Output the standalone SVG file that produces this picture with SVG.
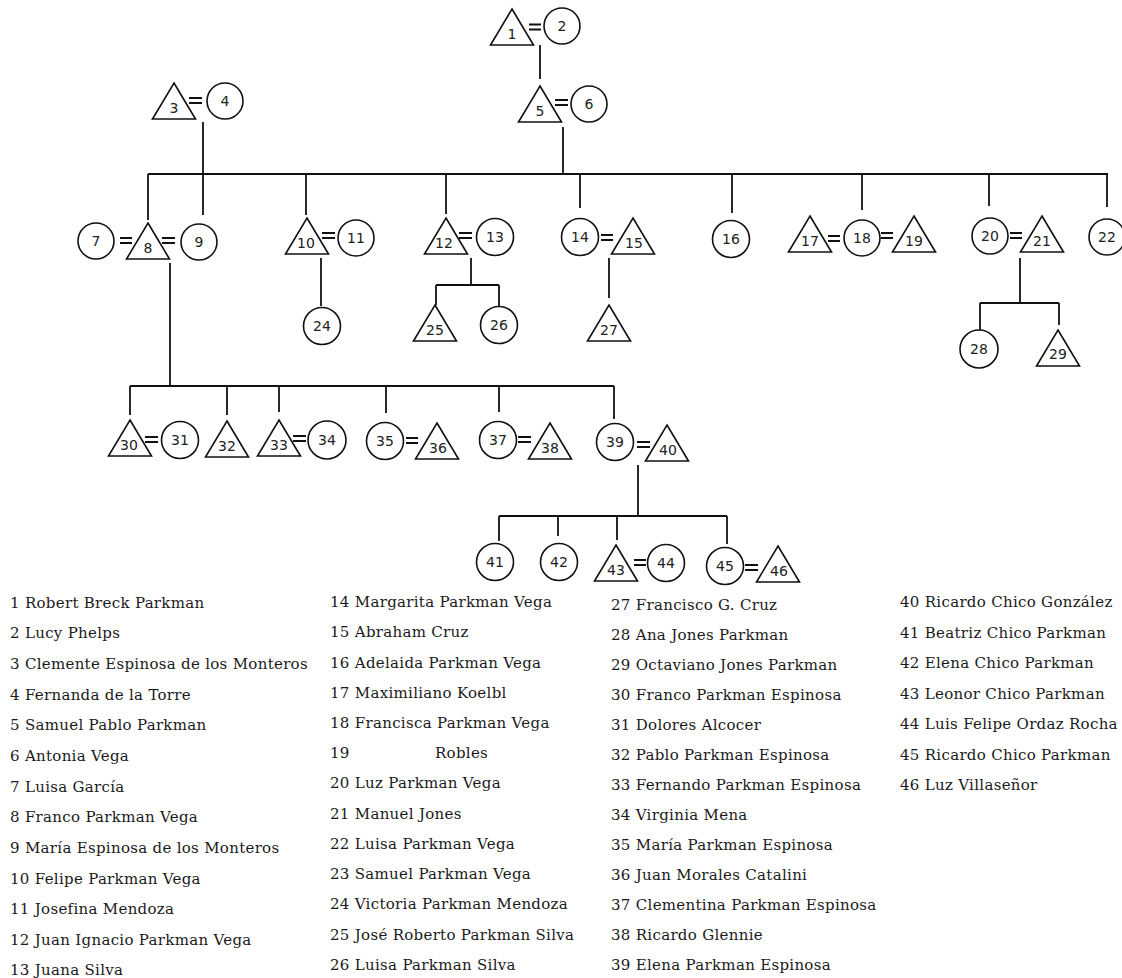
<svg xmlns="http://www.w3.org/2000/svg" xmlns:xlink="http://www.w3.org/1999/xlink" width="1122" height="978" viewBox="0 0 1122 978">
  <style>
    .ln { fill: none; stroke: #111; stroke-width: 1.8; }
    .sh { fill: #fff; stroke: #111; stroke-width: 1.6; }
    .eq { fill: none; stroke: #111; stroke-width: 1.8; }
    .num { font-family: "DejaVu Sans", Verdana, sans-serif; font-size: 14px; fill: #222; text-anchor: middle; }
    .leg { font-family: "DejaVu Serif", "Liberation Serif", serif; font-size: 15px; letter-spacing: 0.3px; fill: #1a1a1a; }
  </style>
  <defs>
    <!-- male: triangle with apex at the origin -->
    <path id="tri" d="M0,0 L21.5,36 L-21.5,36 Z"/>
  </defs>
  <rect width="1122" height="978" fill="#fff"/>

  <!-- descent and sibling lines -->
  <g id="connectors">
    <path class="ln" d="M540,45 V79"/>
    <path class="ln" d="M563,127 V174"/>
    <path class="ln" d="M203,122 V174"/>
    <path class="ln" d="M148,174 H1108"/>
    <path class="ln" d="M148,174 V220 M203,174 V215 M306,174 V215 M446,174 V214 M580,174 V208 M732,174 V213 M862,174 V210 M989,174 V206 M1107,174 V207"/>
    <path class="ln" d="M321,258 V306"/>
    <path class="ln" d="M471,258 V285 M436,285 H499 M436,285 V305 M499,285 V307"/>
    <path class="ln" d="M609,258 V298"/>
    <path class="ln" d="M1020,258 V303 M980,303 H1059 M980,303 V330 M1059,303 V325"/>
    <path class="ln" d="M170,263 V386 M130,386 H614"/>
    <path class="ln" d="M130,386 V415 M227,386 V415 M279,386 V412 M386,386 V413 M499,386 V412 M614,386 V419"/>
    <path class="ln" d="M638,465 V516 M499,516 H727"/>
    <path class="ln" d="M499,516 V541 M558,516 V536 M617,516 V540 M727,516 V544"/>
  </g>

  <!-- marriage signs -->
  <g id="marriages">
    <path class="eq" d="M529,24.5 h12 M529,29.5 h12"/>
    <path class="eq" d="M555,100 h13 M555,105 h13"/>
    <path class="eq" d="M189,98 h13 M189,103 h13"/>
    <path class="eq" d="M120,238 h12 M120,243 h12"/>
    <path class="eq" d="M162,238 h13 M162,243 h13"/>
    <path class="eq" d="M322,233 h13 M322,238 h13"/>
    <path class="eq" d="M459,233 h13 M459,238 h13"/>
    <path class="eq" d="M601,235 h12 M601,240 h12"/>
    <path class="eq" d="M828,236 h12 M828,241 h12"/>
    <path class="eq" d="M881,233 h12 M881,238 h12"/>
    <path class="eq" d="M1010,233 h12 M1010,238 h12"/>
    <path class="eq" d="M145,437 h13 M145,442 h13"/>
    <path class="eq" d="M293,436 h13 M293,441 h13"/>
    <path class="eq" d="M406,438 h12 M406,443 h12"/>
    <path class="eq" d="M518,437 h13 M518,442 h13"/>
    <path class="eq" d="M637,442 h13 M637,447 h13"/>
    <path class="eq" d="M634,560 h12 M634,565 h12"/>
    <path class="eq" d="M745,565 h13 M745,570 h13"/>
  </g>

  <!-- generation I -->
  <g id="n1"><use xlink:href="#tri" class="sh" x="512" y="9"/><text class="num" x="512" y="39">1</text></g>
  <g id="n2"><circle class="sh" cx="562" cy="26" r="18"/><text class="num" x="562" y="31">2</text></g>
  <g id="n3"><use xlink:href="#tri" class="sh" x="174" y="83"/><text class="num" x="174" y="113">3</text></g>
  <g id="n4"><circle class="sh" cx="225" cy="101" r="18"/><text class="num" x="225" y="106">4</text></g>
  <g id="n5"><use xlink:href="#tri" class="sh" x="540" y="86"/><text class="num" x="540" y="116">5</text></g>
  <g id="n6"><circle class="sh" cx="589" cy="104" r="18"/><text class="num" x="589" y="109">6</text></g>

  <!-- generation II -->
  <g id="n7"><circle class="sh" cx="96" cy="241" r="18"/><text class="num" x="96" y="246">7</text></g>
  <g id="n8"><use xlink:href="#tri" class="sh" x="148" y="223"/><text class="num" x="148" y="253">8</text></g>
  <g id="n9"><circle class="sh" cx="199" cy="242" r="18"/><text class="num" x="199" y="247">9</text></g>
  <g id="n10"><use xlink:href="#tri" class="sh" x="307" y="218"/><text class="num" x="306" y="248">10</text></g>
  <g id="n11"><circle class="sh" cx="356" cy="238" r="18"/><text class="num" x="356" y="243">11</text></g>
  <g id="n12"><use xlink:href="#tri" class="sh" x="446" y="218"/><text class="num" x="444" y="248">12</text></g>
  <g id="n13"><circle class="sh" cx="495" cy="237" r="18.5"/><text class="num" x="495" y="242">13</text></g>
  <g id="n14"><circle class="sh" cx="580" cy="237" r="18.5"/><text class="num" x="580" y="242">14</text></g>
  <g id="n15"><use xlink:href="#tri" class="sh" x="633" y="218"/><text class="num" x="634" y="248">15</text></g>
  <g id="n16"><circle class="sh" cx="731" cy="239" r="18.5"/><text class="num" x="731" y="244">16</text></g>
  <g id="n17"><use xlink:href="#tri" class="sh" x="810" y="216"/><text class="num" x="810" y="246">17</text></g>
  <g id="n18"><circle class="sh" cx="862" cy="238" r="18"/><text class="num" x="862" y="243">18</text></g>
  <g id="n19"><use xlink:href="#tri" class="sh" x="914" y="216"/><text class="num" x="914" y="246">19</text></g>
  <g id="n20"><circle class="sh" cx="990" cy="236" r="18"/><text class="num" x="990" y="241">20</text></g>
  <g id="n21"><use xlink:href="#tri" class="sh" x="1042" y="216"/><text class="num" x="1042" y="246">21</text></g>
  <g id="n22"><circle class="sh" cx="1107" cy="237" r="18"/><text class="num" x="1107" y="242">22</text></g>

  <!-- generation III, second family line -->
  <g id="n24"><circle class="sh" cx="322" cy="326" r="18.5"/><text class="num" x="322" y="331">24</text></g>
  <g id="n25"><use xlink:href="#tri" class="sh" x="435" y="305"/><text class="num" x="435" y="335">25</text></g>
  <g id="n26"><circle class="sh" cx="499" cy="325" r="18.5"/><text class="num" x="499" y="330">26</text></g>
  <g id="n27"><use xlink:href="#tri" class="sh" x="609" y="305"/><text class="num" x="609" y="335">27</text></g>
  <g id="n28"><circle class="sh" cx="979" cy="349" r="19"/><text class="num" x="979" y="354">28</text></g>
  <g id="n29"><use xlink:href="#tri" class="sh" x="1058" y="330"/><text class="num" x="1058" y="359">29</text></g>

  <!-- generation III, children of 8 and 9 -->
  <g id="n30"><use xlink:href="#tri" class="sh" x="130" y="420"/><text class="num" x="129" y="450">30</text></g>
  <g id="n31"><circle class="sh" cx="180" cy="440" r="18.5"/><text class="num" x="180" y="445">31</text></g>
  <g id="n32"><use xlink:href="#tri" class="sh" x="227" y="421"/><text class="num" x="227" y="451">32</text></g>
  <g id="n33"><use xlink:href="#tri" class="sh" x="279" y="420"/><text class="num" x="279" y="450">33</text></g>
  <g id="n34"><circle class="sh" cx="327" cy="440" r="19"/><text class="num" x="327" y="445">34</text></g>
  <g id="n35"><circle class="sh" cx="385" cy="441" r="18.5"/><text class="num" x="385" y="446">35</text></g>
  <g id="n36"><use xlink:href="#tri" class="sh" x="437" y="423"/><text class="num" x="438" y="453">36</text></g>
  <g id="n37"><circle class="sh" cx="498" cy="440" r="18.5"/><text class="num" x="498" y="445">37</text></g>
  <g id="n38"><use xlink:href="#tri" class="sh" x="550" y="423"/><text class="num" x="550" y="453">38</text></g>
  <g id="n39"><circle class="sh" cx="615" cy="442" r="18.5"/><text class="num" x="615" y="447">39</text></g>
  <g id="n40"><use xlink:href="#tri" class="sh" x="667" y="425"/><text class="num" x="668" y="455">40</text></g>

  <!-- generation IV -->
  <g id="n41"><circle class="sh" cx="495" cy="562" r="18.5"/><text class="num" x="495" y="567">41</text></g>
  <g id="n42"><circle class="sh" cx="559" cy="562" r="18.5"/><text class="num" x="559" y="567">42</text></g>
  <g id="n43"><use xlink:href="#tri" class="sh" x="616" y="545"/><text class="num" x="616" y="575">43</text></g>
  <g id="n44"><circle class="sh" cx="666" cy="563" r="18.5"/><text class="num" x="666" y="568">44</text></g>
  <g id="n45"><circle class="sh" cx="725" cy="566" r="18.5"/><text class="num" x="725" y="571">45</text></g>
  <g id="n46"><use xlink:href="#tri" class="sh" x="778" y="546"/><text class="num" x="779" y="576">46</text></g>

  <!-- key of names -->
  <g id="legend">
    <text class="leg" x="10" y="608">1 Robert Breck Parkman</text>
    <text class="leg" x="10" y="638">2 Lucy Phelps</text>
    <text class="leg" x="10" y="669">3 Clemente Espinosa de los Monteros</text>
    <text class="leg" x="10" y="700">4 Fernanda de la Torre</text>
    <text class="leg" x="10" y="730">5 Samuel Pablo Parkman</text>
    <text class="leg" x="10" y="761">6 Antonia Vega</text>
    <text class="leg" x="10" y="792">7 Luisa García</text>
    <text class="leg" x="10" y="822">8 Franco Parkman Vega</text>
    <text class="leg" x="10" y="853">9 María Espinosa de los Monteros</text>
    <text class="leg" x="10" y="884">10 Felipe Parkman Vega</text>
    <text class="leg" x="10" y="914">11 Josefina Mendoza</text>
    <text class="leg" x="10" y="945">12 Juan Ignacio Parkman Vega</text>
    <text class="leg" x="10" y="975">13 Juana Silva</text>

    <text class="leg" x="330" y="607">14 Margarita Parkman Vega</text>
    <text class="leg" x="330" y="637">15 Abraham Cruz</text>
    <text class="leg" x="330" y="668">16 Adelaida Parkman Vega</text>
    <text class="leg" x="330" y="698">17 Maximiliano Koelbl</text>
    <text class="leg" x="330" y="728">18 Francisca Parkman Vega</text>
    <text class="leg" x="330" y="758">19</text>
    <text class="leg" x="435" y="758">Robles</text>
    <text class="leg" x="330" y="788">20 Luz Parkman Vega</text>
    <text class="leg" x="330" y="819">21 Manuel Jones</text>
    <text class="leg" x="330" y="849">22 Luisa Parkman Vega</text>
    <text class="leg" x="330" y="879">23 Samuel Parkman Vega</text>
    <text class="leg" x="330" y="909">24 Victoria Parkman Mendoza</text>
    <text class="leg" x="330" y="940">25 José Roberto Parkman Silva</text>
    <text class="leg" x="330" y="970">26 Luisa Parkman Silva</text>

    <text class="leg" x="611" y="610">27 Francisco G. Cruz</text>
    <text class="leg" x="611" y="640">28 Ana Jones Parkman</text>
    <text class="leg" x="611" y="670">29 Octaviano Jones Parkman</text>
    <text class="leg" x="611" y="700">30 Franco Parkman Espinosa</text>
    <text class="leg" x="611" y="730">31 Dolores Alcocer</text>
    <text class="leg" x="611" y="760">32 Pablo Parkman Espinosa</text>
    <text class="leg" x="611" y="790">33 Fernando Parkman Espinosa</text>
    <text class="leg" x="611" y="820">34 Virginia Mena</text>
    <text class="leg" x="611" y="850">35 María Parkman Espinosa</text>
    <text class="leg" x="611" y="880">36 Juan Morales Catalini</text>
    <text class="leg" x="611" y="910">37 Clementina Parkman Espinosa</text>
    <text class="leg" x="611" y="940">38 Ricardo Glennie</text>
    <text class="leg" x="611" y="970">39 Elena Parkman Espinosa</text>

    <text class="leg" x="900" y="607">40 Ricardo Chico González</text>
    <text class="leg" x="900" y="638">41 Beatriz Chico Parkman</text>
    <text class="leg" x="900" y="668">42 Elena Chico Parkman</text>
    <text class="leg" x="900" y="699">43 Leonor Chico Parkman</text>
    <text class="leg" x="900" y="729">44 Luis Felipe Ordaz Rocha</text>
    <text class="leg" x="900" y="760">45 Ricardo Chico Parkman</text>
    <text class="leg" x="900" y="790">46 Luz Villaseñor</text>
  </g>
</svg>
